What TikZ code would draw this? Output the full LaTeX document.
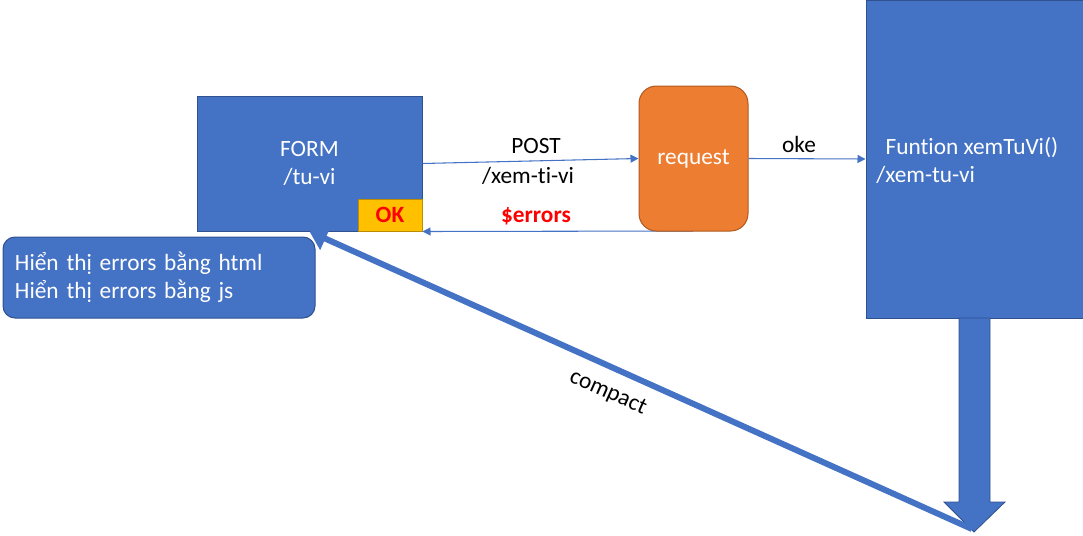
\documentclass[tikz,border=0pt]{standalone}
\usepackage{fontspec}
\setmainfont{Carlito}[Ligatures=NoCommon]
\usetikzlibrary{arrows.meta}

\definecolor{boxblue}{HTML}{4472C4}
\definecolor{edgeblue}{HTML}{2F528F}
\definecolor{reqorange}{HTML}{ED7D31}
\definecolor{edgeorange}{HTML}{AE5A21}
\definecolor{okgold}{HTML}{FFC000}
\definecolor{edgegold}{HTML}{BC8C00}

\begin{document}
\begin{tikzpicture}[x=0.75pt,y=-0.75pt,
  font=\fontsize{17.5}{21}\selectfont,
  bluebox/.style = {draw=edgeblue, fill=boxblue, text=white, line width=0.75pt, inner sep=0pt},
  reqbox/.style = {draw=edgeorange, fill=reqorange, text=white, line width=0.75pt, rounded corners=13pt},
  okbox/.style = {draw=edgegold, fill=okgold, text=red, font=\fontsize{17.5}{21}\selectfont\bfseries, inner sep=0pt},
  thin/.style = {draw=boxblue, line width=0.8pt, -{Triangle[width=6pt,length=6pt]}},
  lbl/.style = {text=black}]
\useasboundingbox (0,0) rectangle (1083,536);

\node[bluebox, minimum width=168.75pt, minimum height=101.25pt, align=center] (form) at (309.5,163.5) {FORM\\/tu-vi};
\node[okbox, minimum width=48pt, minimum height=24pt] (ok) at (390,215) {OK};
\node[bluebox, rounded corners=9pt, minimum width=234pt, minimum height=60.75pt, text width=216pt, inner xsep=9pt, align=left] (show) at (159,277.5) {Hiển thị errors bằng html\\Hiển thị errors bằng js};
\node[bluebox, minimum width=162.75pt, minimum height=238.5pt] (fn) at (974.5,159) {};
\node[text=white, anchor=west, align=left, inner sep=0pt] (fntext) at (876,160) {\hspace{7pt}Funtion xemTuVi()\\/xem-tu-vi};

% errors back to the form
\draw[thin] (693,231) -- (form.south east);
\node[reqbox, minimum width=81.75pt, minimum height=108.75pt] (req) at (693.5,158.5) {request};

\draw[thin] (form.east) -- (req.west);
\draw[thin] (req.east) -- (fn.west);

\node[lbl] (post) at (536,146) {POST};
\node[lbl] (url) at (528,176) {/xem-ti-vi};
\node[text=red, font=\fontsize{17.5}{21}\selectfont\bfseries] (err) at (536,216) {\$errors};
\node[lbl] (oke) at (799,144) {oke};

% big arrow out of the function
\filldraw[fill=boxblue, draw=edgeblue, line width=0.6pt]
  (959,318) -- (990,318) -- (990,502) -- (1005,502) -- (974,532) -- (944,502) -- (959,502) -- cycle;
\coordinate (tip) at (972,529);
\draw[boxblue, line width=4.5pt, -{Triangle[width=18pt,length=13pt]}] (tip) -- (form.south);
\node[lbl, rotate=-24] (compact) at (608,393) {compact};
\end{tikzpicture}
\end{document}
